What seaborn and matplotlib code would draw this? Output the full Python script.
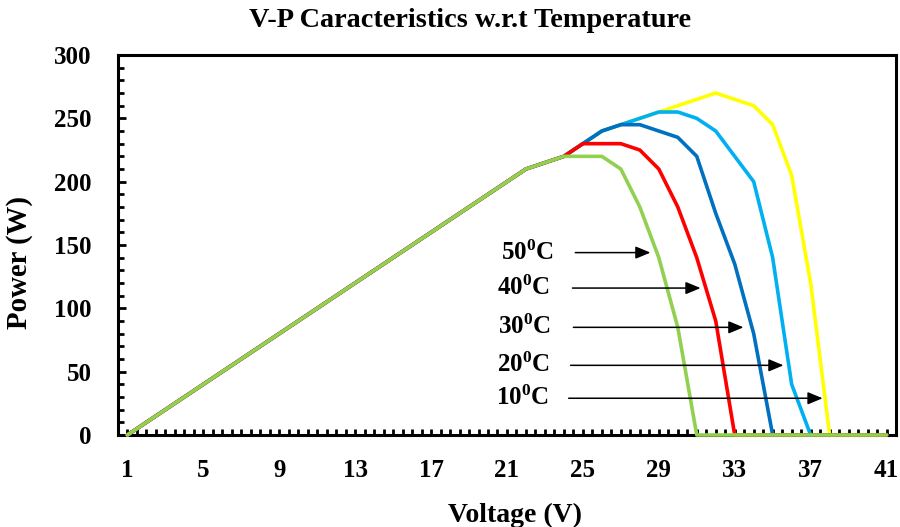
import matplotlib
matplotlib.use("Agg")
import matplotlib.pyplot as plt
import seaborn as sns
import pandas as pd

# voltage categories (V)
voltage = list(range(1, 42))

# shared linear rise, 1 V .. 22 V
ramp = [0, 10, 20, 30, 40, 50, 60, 70, 80, 90, 100,
        110, 120, 130, 140, 150, 160, 170, 180, 190, 200, 210]

# power (W) from 23 V to 41 V for each temperature
p_10 = [215, 220, 230, 240, 245, 250, 255, 260, 265, 270, 265, 260, 245, 205, 120, 0, 0, 0, 0]
p_20 = [215, 220, 230, 240, 245, 250, 255, 255, 250, 240, 220, 200, 140, 40, 0, 0, 0, 0, 0]
p_30 = [215, 220, 230, 240, 245, 245, 240, 235, 220, 175, 135, 80, 0, 0, 0, 0, 0, 0, 0]
p_40 = [215, 220, 230, 230, 230, 225, 210, 180, 140, 90, 0, 0, 0, 0, 0, 0, 0, 0, 0]
p_50 = [215, 220, 220, 220, 210, 180, 140, 85, 0, 0, 0, 0, 0, 0, 0, 0, 0, 0, 0]

temps = ["10", "20", "30", "40", "50"]
series = [p_10, p_20, p_30, p_40, p_50]
colors = ["#FFFF00", "#00B0F0", "#0070C0", "#FF0000", "#92D050"]

# annotation labels: text left x, arrow tail x, arrow head x, y
label_x = [20.4, 20.45, 20.55, 20.5, 20.66]
arrow_tail = [24.25, 24.35, 24.5, 24.45, 24.6]
arrow_head = [37.63, 35.57, 33.46, 31.2, 28.56]
label_y = [29, 55, 85, 116, 144]

rows = []
for t, vals in zip(temps, series):
    for v, p in zip(voltage, ramp + vals):
        rows.append({"Voltage": v, "Power": p, "Temp": t})
df = pd.DataFrame(rows)

sns.set_style("ticks")
plt.rcParams["font.family"] = "Liberation Serif"
plt.rcParams["font.weight"] = "bold"
plt.rcParams["mathtext.fontset"] = "custom"
plt.rcParams["mathtext.rm"] = "Liberation Serif:bold"
plt.rcParams["mathtext.bf"] = "Liberation Serif:bold"
for key in ["text.color", "axes.labelcolor", "xtick.color", "ytick.color"]:
    plt.rcParams[key] = "black"

fig, ax = plt.subplots(figsize=(9, 5.27), dpi=100)
fig.subplots_adjust(left=0.131, right=0.9956, bottom=0.1746, top=0.8956)

sns.lineplot(data=df, x="Voltage", y="Power", hue="Temp", hue_order=temps,
             palette=colors, linewidth=2.6, legend=False, ax=ax)
for ln in ax.lines:
    ln.set_clip_on(False)
    ln.set_zorder(3)
    ln.set_solid_capstyle("round")
    ln.set_solid_joinstyle("round")

ax.set_xlim(0.5, 41.5)
ax.set_ylim(0, 300)
ax.set_xticks(range(1, 42, 4))
ax.set_xticks([x / 2 for x in range(1, 84)], minor=True)
ax.set_yticks(range(0, 301, 50))
ax.set_yticks(range(0, 301, 10), minor=True)

ax.tick_params(axis="x", which="major", direction="in", length=4, width=2, pad=17, labelsize=18)
ax.tick_params(axis="x", which="minor", direction="in", length=4, width=2)
ax.tick_params(axis="y", which="major", direction="in", length=6, width=2, pad=19, labelsize=18)
ax.tick_params(axis="y", which="minor", direction="in", length=4, width=2)
for lab in ax.get_xticklabels() + ax.get_yticklabels():
    lab.set_fontweight("bold")

for s in ax.spines.values():
    s.set_color("black")
    s.set_linewidth(2.2)

ax.set_xlabel("Voltage (V)", fontsize=20, fontweight="bold")
ax.set_ylabel("Power (W)", fontsize=20.7, fontweight="bold")
ax.xaxis.set_label_coords(0.510, -0.178)
ax.yaxis.set_label_coords(-0.109, 0.453)
fig.text(0.522, 0.962, "V-P Caracteristics w.r.t Temperature",
         ha="center", va="center", fontsize=20.3, fontweight="bold")

for t, lx, x0, x1, y in zip(temps, label_x, arrow_tail, arrow_head, label_y):
    ax.text(lx, y, r"$\mathbf{" + t + r"^{0}C}$", ha="left", va="center", fontsize=18)
    ax.annotate("", xy=(x1, y), xytext=(x0, y),
                arrowprops=dict(arrowstyle="-|>,head_length=0.6,head_width=0.25",
                                color="black", lw=1.1, shrinkA=0, shrinkB=0,
                                mutation_scale=15))

fig.savefig("out.png", dpi=100)
plt.close(fig)
